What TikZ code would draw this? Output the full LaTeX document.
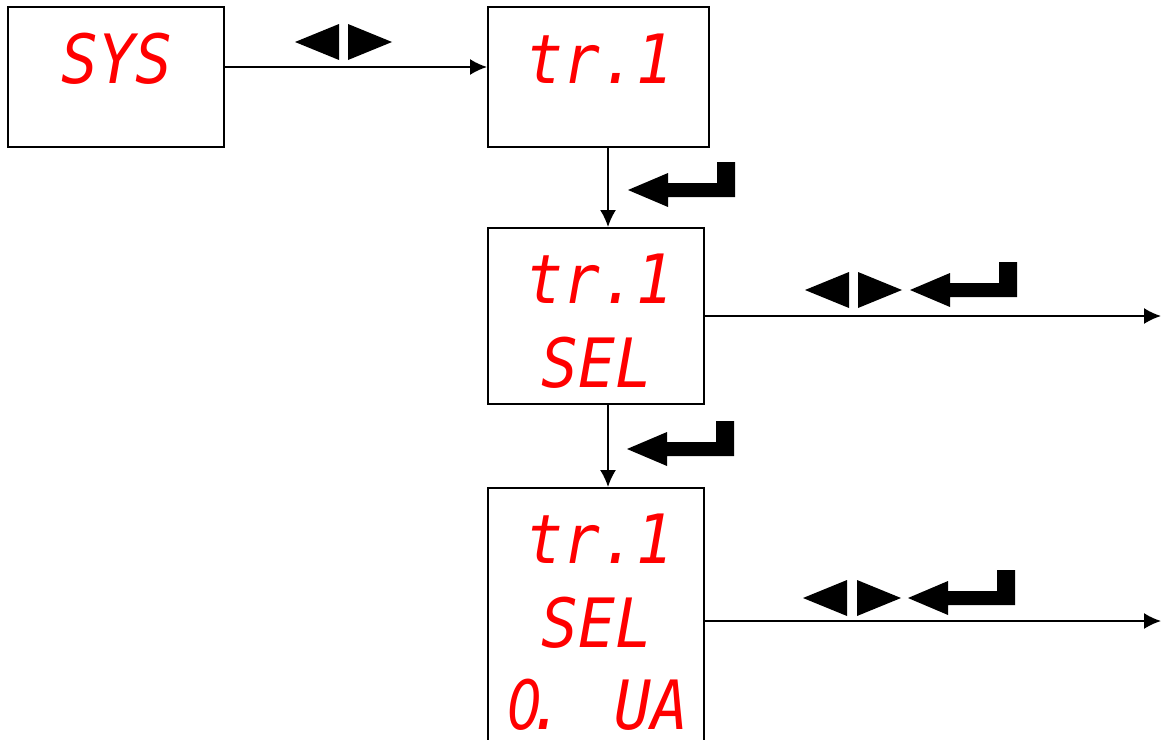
\documentclass[tikz,border=0pt]{standalone}
\usepackage{fontspec}
\usepackage{tikz}
\usetikzlibrary{arrows.meta}
\newfontfamily\segfont{DejaVu Sans Mono}[FakeStretch=0.9]
\newfontfamily\segzero{DejaVu Sans}[FakeStretch=0.8]
\definecolor{white}{RGB}{255,255,255}
\definecolor{black}{RGB}{0,0,0}
\definecolor{seg_red}{RGB}{255,0,0}

\tikzset{
	display/.style={rectangle,draw=black,fill=white,line width=2pt,inner sep=0pt},
	seg/.style={text=seg_red,font=\segfont\itshape\fontsize{68}{68}\selectfont,inner sep=0pt,anchor=base},
	flow/.style={black,line width=1.8pt,-{Latex[length=17pt,width=16pt]}},
	leftkey/.pic={\fill[black] (0,0) -- (44,-18) -- (44,18) -- cycle;},
	rightkey/.pic={\fill[black] (0,-18) -- (44,0) -- (0,18) -- cycle;},
	enterkey/.pic={\fill[black] (0,0) -- (40,-17) -- (40,-7) -- (89,-7) -- (89,-28) -- (107,-28)
		-- (107,7) -- (40,7) -- (40,17) -- cycle;}
}

\begin{document}
\begin{tikzpicture}[x=1pt,y=-1pt]
	\useasboundingbox (0,0) rectangle (1161,739);
	\fill[white] (0,0) rectangle (1161,739);

	\node[display,minimum width=216pt,minimum height=140pt] (sys) at (116,77) {};
	\node[display,minimum width=221pt,minimum height=140pt] (trA) at (598.5,77) {};
	\node[display,minimum width=216pt,minimum height=176pt] (trB) at (596,316) {};
	\node[display,minimum width=216pt,minimum height=259pt] (trC) at (596,617.5) {};

	\node[seg] (sysTxt) at (117,83) {SYS};
	\node[seg] (trATxt) at (600,83) {tr.1};
	\node[seg] (trBTxt1) at (600,303) {tr.1};
	\node[seg] (trBTxt2) at (597,387) {SEL};
	\node[seg] (trCTxt1) at (600,563) {tr.1};
	\node[seg] (trCTxt2) at (597,647) {SEL};
	\node[seg] (trCTxt3) at (598,729) {{\segzero\itshape 0}\kern-14pt. UA};

	\coordinate (inB) at ([xshift=12pt]trB.north);
	\coordinate (inC) at ([xshift=12pt]trC.north);
	\coordinate (outB) at (1161,316);
	\coordinate (outC) at (1161,621);

	\draw[flow] ([yshift=10pt]sys.east) -- ([yshift=10pt]trA.west);
	\draw[flow] (trA.south -| inB) -- (inB);
	\draw[flow] (trB.south -| inC) -- (inC);
	\foreach \x/\y in {trB/outB,trC/outC}
		\draw[flow] (\x.east |- \y) -- (\y);

	% keys
	\pic at (295,42) {leftkey};
	\pic at (348,42) {rightkey};
	\pic at (628,190) {enterkey};
	\pic at (805,290) {leftkey};
	\pic at (858,290) {rightkey};
	\pic at (910,290) {enterkey};
	\pic at (627,449) {enterkey};
	\pic at (803,598) {leftkey};
	\pic at (857,598) {rightkey};
	\pic at (908,598) {enterkey};
\end{tikzpicture}
\end{document}
